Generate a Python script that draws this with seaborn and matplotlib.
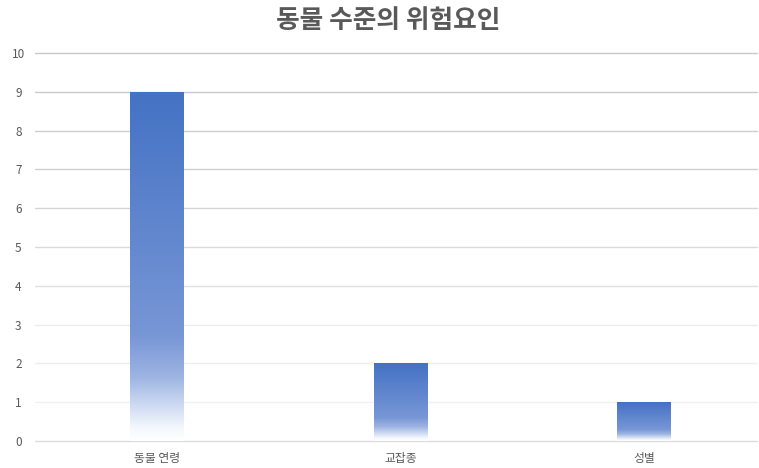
import numpy as np
import pandas as pd
import matplotlib
matplotlib.use("Agg")
import matplotlib.pyplot as plt
from matplotlib.colors import LinearSegmentedColormap
import seaborn as sns

# Chart data
categories = ["동물 연령", "교잡종", "성별"]
counts = [9, 2, 1]
y_ticks = [0, 1, 2, 3, 4, 5, 6, 7, 8, 9, 10]
title = "동물 수준의 위험요인"

sns.set_theme(style="white")
plt.rcParams["font.family"] = ["Noto Sans CJK KR", "DejaVu Sans"]

df = pd.DataFrame({"category": categories, "count": counts})

W, H = 759, 468
fig = plt.figure(figsize=(W / 100, H / 100), dpi=100)
left, right, bottom, top = 35, 757, 441, 53
ax = fig.add_axes([left / W, (H - bottom) / H, (right - left) / W, (bottom - top) / H])

sns.barplot(data=df, x="category", y="count", ax=ax, width=0.22,
            color="#4472C4", saturation=1, zorder=2)

# Vertical gradient fill (white at the base, blue at the top)
grad = LinearSegmentedColormap.from_list(
    "bar_grad",
    [(0.0, (1, 1, 1)),
     (0.04, (0.95, 0.965, 0.99)),
     (0.18, (0.62, 0.71, 0.89)),
     (0.30, (0.47, 0.59, 0.84)),
     (1.0, (0.267, 0.447, 0.769))],
)
ramp = np.linspace(0, 1, 256).reshape(-1, 1)
for patch in ax.patches:
    x0 = patch.get_x()
    w = patch.get_width()
    h = patch.get_height()
    patch.set_facecolor("none")
    patch.set_edgecolor("none")
    img = ax.imshow(ramp, cmap=grad, aspect="auto", origin="lower",
                    extent=[x0, x0 + w, 0, h], zorder=2, interpolation="bilinear")
    img.set_clip_path(patch)

ax.set_xlim(-0.5, 2.464)
ax.set_ylim(0, 10)
ax.set_yticks(y_ticks)
ax.set_yticklabels([str(t) for t in y_ticks])

# Horizontal gridlines, lighter toward the base
grid_colors = {10: "#C8C8C8", 9: "#CACACA", 8: "#CDCDCD", 7: "#D0D0D0", 6: "#D5D5D5",
               5: "#DADADA", 4: "#E0E0E0", 3: "#ECECEC", 2: "#EFEFEF", 1: "#F1F1F1",
               0: "#DCDCDC"}
for t in y_ticks:
    ax.axhline(t, color=grid_colors[t], lw=1.0, zorder=1, clip_on=False)

for s in ax.spines.values():
    s.set_visible(False)

ax.set_xlabel("")
ax.set_ylabel("")
ax.tick_params(axis="y", length=0, pad=12, labelsize=8.5, labelcolor="#595959")
ax.tick_params(axis="x", length=0, pad=8, labelsize=8.5, labelcolor="#595959")
for lab in ax.get_yticklabels():
    lab.set_horizontalalignment("center")
    lab.set_x(0.0)

fig.text(388 / W, 1 - 20 / H, title, ha="center", va="center",
         fontsize=18.5, fontweight="bold", color="#595959")

fig.savefig("out.png", dpi=100)
